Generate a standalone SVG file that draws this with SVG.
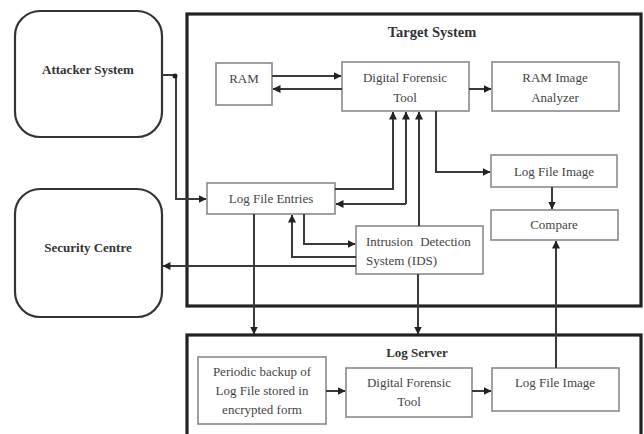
<svg xmlns="http://www.w3.org/2000/svg" width="644" height="434" viewBox="0 0 644 434">
  <style>
    .ext { fill: #fff; stroke: #333; stroke-width: 2.2; }
    .sys { fill: none; stroke: #222; stroke-width: 3.2; }
    .box { fill: #fff; stroke: #8a8a8a; stroke-width: 1.6; }
    text { font-family: 'Liberation Serif', 'DejaVu Serif', serif; }
    .lbl { font-size: 13px; fill: #444; text-anchor: middle; }
    .ttl { font-size: 13px; font-weight: bold; fill: #333; text-anchor: middle; }
    .wire { fill: none; stroke: #3a3a3a; stroke-width: 2; }
  </style>
  <defs>
    <marker id="arr" viewBox="0 0 8 8" refX="7.5" refY="4" markerWidth="4" markerHeight="4" orient="auto" markerUnits="strokeWidth">
      <path d="M0,0 L8,4 L0,8 Z" fill="#222"/>
    </marker>
  </defs>

  <rect width="644" height="434" fill="#fff"/>

  <!-- outer systems -->
  <g id="target-system">
    <rect class="sys" x="187" y="14" width="454" height="292"/>
    <text class="ttl" x="432" y="37" style="font-size:14.5px">Target System</text>
  </g>
  <g id="log-server">
    <rect class="sys" x="187" y="335" width="454" height="110"/>
    <text class="ttl" x="417" y="357">Log Server</text>
  </g>

  <g id="attacker">
    <rect class="ext" x="15" y="11" width="147" height="126" rx="25"/>
    <text class="ttl" x="88" y="74">Attacker System</text>
  </g>
  <g id="security-centre">
    <rect class="ext" x="15" y="189" width="147" height="128" rx="25"/>
    <text class="ttl" x="88" y="252">Security Centre</text>
  </g>

  <!-- target system parts -->
  <g id="ram">
    <rect class="box" x="216" y="63" width="56" height="42"/>
    <text class="lbl" x="244" y="83">RAM</text>
  </g>
  <g id="dft-target">
    <rect class="box" x="342" y="62" width="127" height="49"/>
    <text class="lbl" x="405" y="82">Digital Forensic</text>
    <text class="lbl" x="405" y="102">Tool</text>
  </g>
  <g id="ram-analyzer">
    <rect class="box" x="492" y="62" width="127" height="49"/>
    <text class="lbl" x="555" y="82">RAM Image</text>
    <text class="lbl" x="555" y="102">Analyzer</text>
  </g>
  <g id="log-image-target">
    <rect class="box" x="491" y="155" width="126" height="32"/>
    <text class="lbl" x="554" y="176">Log File Image</text>
  </g>
  <g id="compare">
    <rect class="box" x="491" y="210" width="127" height="30"/>
    <text class="lbl" x="554" y="229">Compare</text>
  </g>
  <g id="log-entries">
    <rect class="box" x="207" y="183" width="128" height="31"/>
    <text class="lbl" x="271" y="203">Log File Entries</text>
  </g>
  <g id="ids">
    <rect class="box" x="356" y="226" width="127" height="48"/>
    <text class="lbl" x="366" y="246" style="text-anchor:start" word-spacing="4">Intrusion Detection</text>
    <text class="lbl" x="366" y="265" style="text-anchor:start">System (IDS)</text>
  </g>

  <!-- log server parts -->
  <g id="backup">
    <rect class="box" x="198" y="357" width="128" height="67"/>
    <text class="lbl" x="262" y="376">Periodic backup of</text>
    <text class="lbl" x="262" y="395">Log File stored in</text>
    <text class="lbl" x="262" y="414">encrypted form</text>
  </g>
  <g id="dft-server">
    <rect class="box" x="346" y="368" width="126" height="49"/>
    <text class="lbl" x="409" y="387">Digital Forensic</text>
    <text class="lbl" x="409" y="406">Tool</text>
  </g>
  <g id="log-image-server">
    <rect class="box" x="492" y="368" width="127" height="43"/>
    <text class="lbl" x="555" y="387">Log File Image</text>
  </g>

  <g id="connectors">
    <!-- attacker to log file entries -->
    <path class="wire" d="M162,75 H176 V199 H206" marker-end="url(#arr)"/>
    <circle cx="175" cy="76" r="2.5" fill="#222"/>
    <!-- RAM and forensic tool -->
    <path class="wire" d="M272,76 H341" marker-end="url(#arr)"/>
    <path class="wire" d="M342,89 H273" marker-end="url(#arr)"/>
    <!-- forensic tool to analyzer and log image -->
    <path class="wire" d="M469,89 H491" marker-end="url(#arr)"/>
    <path class="wire" d="M436,111 V172 H490" marker-end="url(#arr)"/>
    <path class="wire" d="M552,187 V209" marker-end="url(#arr)"/>
    <!-- log file entries and forensic tool -->
    <path class="wire" d="M335,189 H393 V112" marker-end="url(#arr)"/>
    <path class="wire" d="M406,204 H336" marker-end="url(#arr)"/>
    <path class="wire" d="M406,204 V112" marker-end="url(#arr)"/>
    <path class="wire" d="M419,226 V112" marker-end="url(#arr)"/>
    <!-- log file entries and IDS -->
    <path class="wire" d="M304,214 V244 H355" marker-end="url(#arr)"/>
    <path class="wire" d="M356,257 H292 V215" marker-end="url(#arr)"/>
    <!-- IDS to security centre -->
    <path class="wire" d="M356,266 H163" marker-end="url(#arr)"/>
    <!-- into log server -->
    <path class="wire" d="M254,214 V334" marker-end="url(#arr)"/>
    <path class="wire" d="M418,274 V334" marker-end="url(#arr)"/>
    <!-- inside log server -->
    <path class="wire" d="M326,391 H345" marker-end="url(#arr)"/>
    <path class="wire" d="M472,391 H491" marker-end="url(#arr)"/>
    <path class="wire" d="M556,368 V241" marker-end="url(#arr)"/>
  </g>
</svg>
